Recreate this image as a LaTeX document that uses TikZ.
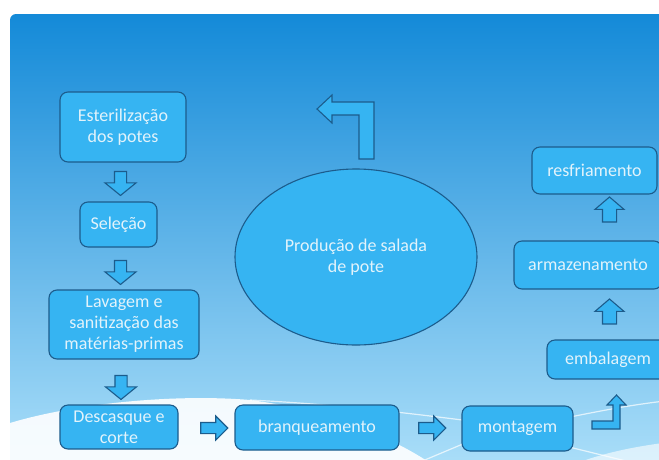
\documentclass[tikz,border=0pt]{standalone}
\usepackage{fontspec}
\setmainfont{Carlito}
\usetikzlibrary{
	shapes.geometric,
	shapes.arrows,
	positioning
}
\definecolor{slidetop}{RGB}{20,138,216}
\definecolor{slidemid}{RGB}{66,172,236}
\definecolor{slidebot}{RGB}{172,223,249}
\definecolor{boxfill}{RGB}{54,180,242}
\definecolor{boxline}{RGB}{28,92,140}
\definecolor{boxtext}{RGB}{226,243,251}

\begin{document}
\begin{tikzpicture}[
	x=1pt, y=-1pt,
	block/.style={
		draw=boxline, line width=1.1pt, fill=boxfill, rounded corners=8pt,
		align=center, text=boxtext, inner sep=0pt,
		font=\fontsize{18}{21}\selectfont
	},
	bigarrow/.style={
		single arrow, draw=boxline, line width=1.1pt, fill=boxfill,
		single arrow head indent=0pt
	},
	downarrow/.style={bigarrow, shape border rotate=270, inner sep=5.5pt,
		minimum height=24pt, single arrow head extend=9.5pt, single arrow tip angle=102},
	rightarrow/.style={bigarrow, inner sep=5pt,
		minimum height=27pt, single arrow head extend=6.5pt, single arrow tip angle=90},
	uparrow/.style={bigarrow, shape border rotate=90, inner sep=6.5pt,
		minimum height=25pt, single arrow head extend=7.5pt, single arrow tip angle=99},
	bentarrow/.style={draw=boxline, line width=1.1pt, fill=boxfill, line join=miter},
	wave/.style={white, line width=1.2pt, opacity=.7}
	]
	
	\useasboundingbox (0,0) rectangle (659,459);
	\clip (0,0) rectangle (659,459);
	
	% slide background
	\fill[white] (0,0) rectangle (659,459);
	\shade[top color=slidetop, middle color=slidemid, bottom color=slidebot, rounded corners=6pt]
		(10,14) rectangle (680,470);
	
	% white wave at the bottom
	\fill[white, opacity=.9] (10,470) -- (10,423) .. controls (80,402) and (180,394) .. (250,400)
		.. controls (330,410) and (400,440) .. (440,470) -- cycle;
	\fill[white, opacity=.6] (560,470) .. controls (600,452) and (640,446) .. (670,442) -- (670,470) -- cycle;
	\draw[wave] (250,400) .. controls (330,404) and (400,412) .. (470,421);
	\draw[wave] (560,419) .. controls (600,411) and (630,405) .. (665,401);
	\draw[wave] (420,462) -- (470,441);
	\draw[wave] (565,446) -- (630,462);
	
	% --- left column ---
	\node[block, minimum width=126pt, minimum height=70pt] (est) at (123,127) {Esterilização\\dos potes};
	\node[block, minimum width=77pt, minimum height=45pt] (sel) at (118.5,224.5) {Seleção};
	\node[block, minimum width=150pt, minimum height=69pt] (lav) at (124,324.5) {Lavagem e\\sanitização das\\matérias-primas};
	\node[block, minimum width=118pt, minimum height=44pt] (desc) at (119,427) {Descasque e\\corte};
	
	\node[downarrow] (a1) at (120.5,181) {};
	\node[downarrow] (a2) at (120.5,270) {};
	\node[downarrow] (a3) at (121,385) {};
	
	% --- bottom row ---
	\node[block, minimum width=164pt, minimum height=45pt] (bran) at (317,427.5) {branqueamento};
	\node[block, minimum width=111pt, minimum height=45pt] (mont) at (517.5,428.5) {montagem};
	
	\node[rightarrow] (a4) at (211.5,428) {};
	\node[rightarrow] (a5) at (429.5,428) {};
	
	% --- right column ---
	\node[block, minimum width=122pt, minimum height=39pt] (emb) at (608,359.5) {embalagem};
	\node[block, minimum width=148pt, minimum height=48pt] (arm) at (588,265) {armazenamento};
	\node[block, minimum width=125pt, minimum height=47pt] (resf) at (594.5,170.5) {resfriamento};
	
	\node[uparrow] (a6) at (609.5,314.5) {};
	\node[uparrow] (a7) at (609.5,212.5) {};
	
	% montagem -> embalagem
	\draw[bentarrow] (592,421) -- (613,421) -- (613,405) -- (607,405) -- (616.5,395)
		-- (626,405) -- (620,405) -- (620,429) -- (592,429) -- cycle;
	
	% --- centre ---
	\node[ellipse, draw=boxline, line width=1.1pt, fill=boxfill, minimum width=242pt, minimum height=176pt,
		inner sep=0pt, align=center, text=boxtext, font=\fontsize{18}{21}\selectfont]
		(prod) at (356,257) {Produção de salada\\de pote};
	
	\draw[bentarrow] (374,159) -- (374,102) -- (332,102) -- (332,95) -- (317,109)
		-- (332,123) -- (332,115) -- (359,115) -- (359,159) -- cycle;
\end{tikzpicture}
\end{document}
